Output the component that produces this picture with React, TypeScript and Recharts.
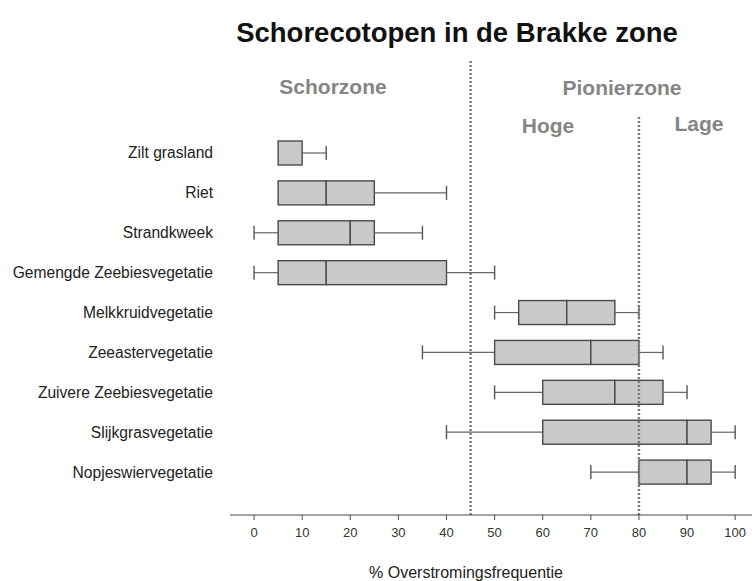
import React from "react";
import { Bar, ComposedChart, ReferenceLine, XAxis, YAxis } from "recharts";

const categories = [
	"Zilt grasland",
	"Riet",
	"Strandkweek",
	"Gemengde Zeebiesvegetatie",
	"Melkkruidvegetatie",
	"Zeeastervegetatie",
	"Zuivere Zeebiesvegetatie",
	"Slijkgrasvegetatie",
	"Nopjeswiervegetatie",
];

const minValues = [5, 5, 0, 0, 50, 35, 50, 40, 70];
const q1Values = [5, 5, 5, 5, 55, 50, 60, 60, 80];
const medianValues = [5, 15, 20, 15, 65, 70, 75, 90, 90];
const q3Values = [10, 25, 25, 40, 75, 80, 85, 95, 95];
const maxValues = [15, 40, 35, 50, 80, 85, 90, 100, 100];

const xTicks = [0, 10, 20, 30, 40, 50, 60, 70, 80, 90, 100];
const zoneBorders = [45, 80];

const FONT = "Arial, 'Liberation Sans', sans-serif";
const LINE = "#4a4a4a";
const BOX_FILL = "#c9c9c9";
const DOTS = "#7a7a7a";

const data = categories.map((name, i) => ({
	name,
	base: minValues[i],
	lowWhisker: q1Values[i] - minValues[i],
	lowBox: medianValues[i] - q1Values[i],
	highBox: q3Values[i] - medianValues[i],
	highWhisker: maxValues[i] - q3Values[i],
}));

const Whisker = (side: "left" | "right") => (props: any) => {
	const { x, y, width, height } = props;
	if (!width || width <= 0) return <g />;
	const cy = y + height / 2;
	const capX = side === "left" ? x : x + width;
	return (
		<g>
			<line x1={x} x2={x + width} y1={cy} y2={cy} stroke="#666" strokeWidth={1.2} />
			<line x1={capX} x2={capX} y1={cy - 7} y2={cy + 7} stroke="#555" strokeWidth={1.4} />
		</g>
	);
};

const BoxPart = (props: any) => {
	const { x, y, width, height } = props;
	if (!width || width <= 0) return <g />;
	return (
		<rect
			x={x}
			y={y}
			width={width}
			height={height}
			fill={BOX_FILL}
			stroke={LINE}
			strokeWidth={1.4}
		/>
	);
};

const zoneLabel = (text: string, left: number, top: number) => (
	<div
		style={{
			position: "absolute",
			left,
			top,
			transform: "translate(-50%, -50%)",
			fontFamily: FONT,
			fontWeight: "bold",
			fontSize: 21,
			color: "#858585",
			whiteSpace: "nowrap",
			zIndex: 2,
		}}
	>
		{text}
	</div>
);

export default function App() {
	return (
		<div
			style={{
				position: "absolute",
				left: 0,
				top: 0,
				width: 752,
				height: 581,
				background: "#fff",
				fontFamily: FONT,
			}}
		>
			<div
				style={{
					position: "absolute",
					left: 457,
					top: 33,
					transform: "translate(-50%, -50%)",
					fontWeight: "bold",
					fontSize: 27.5,
					color: "#111",
					whiteSpace: "nowrap",
				}}
			>
				Schorecotopen in de Brakke zone
			</div>
			<ComposedChart
				width={752}
				height={581}
				data={data}
				layout="vertical"
				margin={{ top: 60, right: 0, bottom: 0, left: 0 }}
				barSize={24}
			>
				<XAxis
					type="number"
					domain={[-5, 103.5]}
					ticks={xTicks}
					allowDataOverflow
					height={66}
					tickSize={5}
					tickMargin={8}
					stroke={LINE}
					tick={{ fill: "#333", fontSize: 13, fontFamily: FONT }}
					label={{
						value: "% Overstromingsfrequentie",
						position: "insideBottom",
						offset: 3,
						dx: -25,
						fill: "#222",
						fontSize: 16,
						fontFamily: FONT,
					}}
				/>
				<YAxis
					type="category"
					dataKey="name"
					width={230}
					axisLine={false}
					tickLine={false}
					tickSize={0}
					tickMargin={17}
					padding={{ top: 73, bottom: 23 }}
					tick={{ fill: "#222", fontSize: 15.6, fontFamily: FONT }}
					interval={0}
				/>
				<Bar dataKey="base" stackId="box" fill="none" isAnimationActive={false} />
				<Bar
					dataKey="lowWhisker"
					stackId="box"
					shape={Whisker("left")}
					isAnimationActive={false}
				/>
				<Bar dataKey="lowBox" stackId="box" shape={BoxPart} isAnimationActive={false} />
				<Bar dataKey="highBox" stackId="box" shape={BoxPart} isAnimationActive={false} />
				<Bar
					dataKey="highWhisker"
					stackId="box"
					shape={Whisker("right")}
					isAnimationActive={false}
				/>
				<ReferenceLine
					x={zoneBorders[0]}
					stroke={DOTS}
					strokeWidth={2.5}
					strokeDasharray="2 2"
				/>
				<ReferenceLine
					x={zoneBorders[1]}
					stroke={DOTS}
					shape={(p: any) => {
						const top = Math.min(p.y1, p.y2);
						const bottom = Math.max(p.y1, p.y2);
						return (
							<line
								x1={p.x1}
								x2={p.x2}
								y1={top + 57}
								y2={bottom}
								stroke={DOTS}
								strokeWidth={2.5}
								strokeDasharray="2 2"
							/>
						);
					}}
				/>
			</ComposedChart>
			{zoneLabel("Schorzone", 333, 87)}
			{zoneLabel("Pionierzone", 622, 88)}
			{zoneLabel("Hoge", 548, 126)}
			{zoneLabel("Lage", 699, 124)}
		</div>
	);
}
